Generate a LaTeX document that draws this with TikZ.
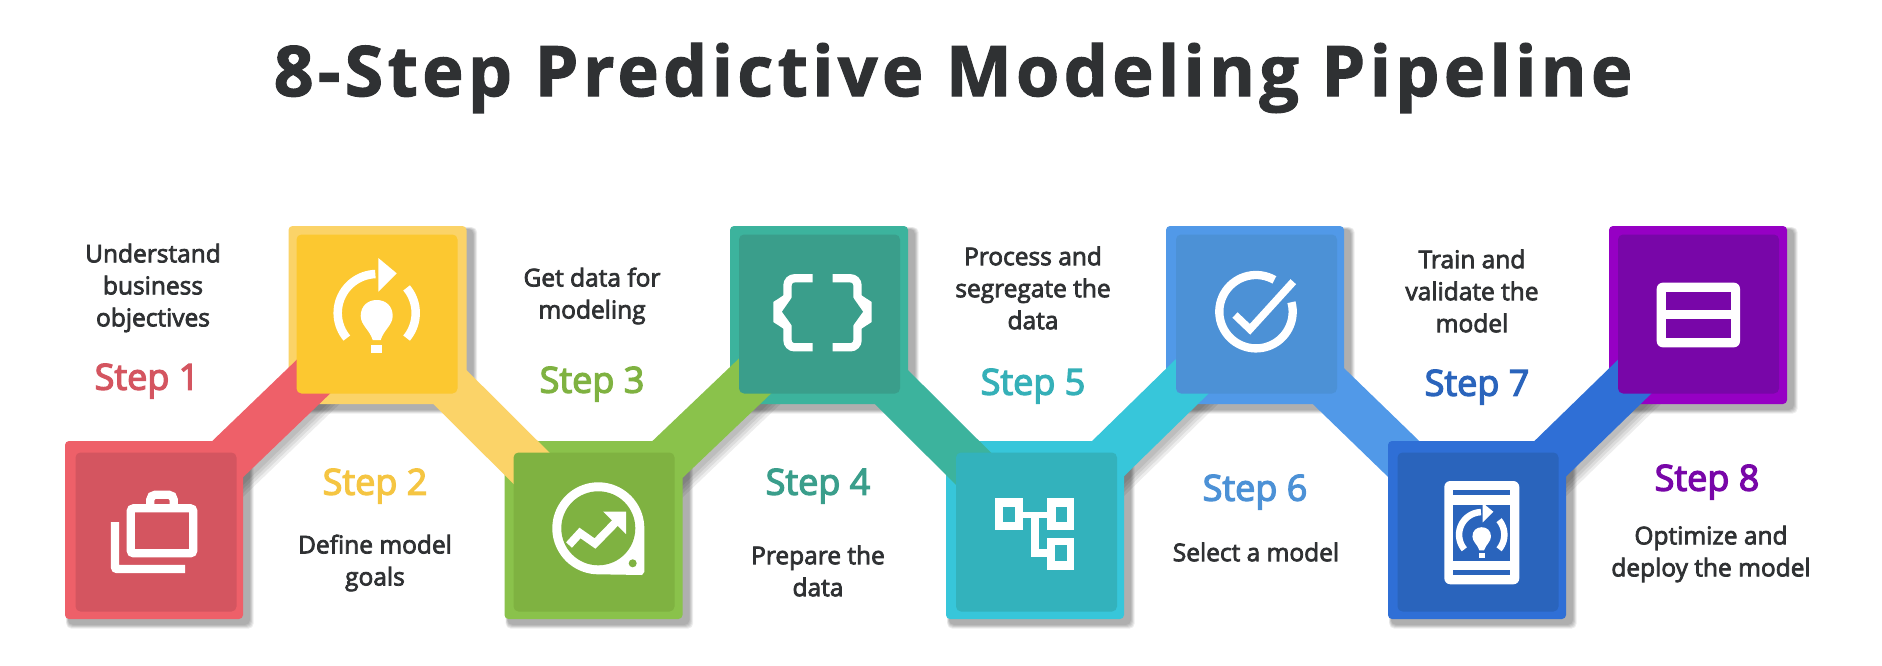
\documentclass[tikz,border=0pt]{standalone}
\usepackage{fontspec}
\setmainfont{Open Sans}
\newfontfamily\semif[FakeBold=3]{Open Sans}
\newfontfamily\stepf[FakeBold=3.5]{Open Sans}
\newfontfamily\titlef[LetterSpace=6.1,BoldFeatures={FakeBold=1.5}]{Open Sans}
\definecolor{oA}{HTML}{EE6069}\definecolor{iA}{HTML}{D45560}
\definecolor{oB}{HTML}{FBD368}\definecolor{iB}{HTML}{FCC830}
\definecolor{oC}{HTML}{8AC24B}\definecolor{iC}{HTML}{7FB241}
\definecolor{oD}{HTML}{3CB39D}\definecolor{iD}{HTML}{3A9E8B}
\definecolor{oE}{HTML}{37C6DA}\definecolor{iE}{HTML}{33B2BC}
\definecolor{oF}{HTML}{5199E8}\definecolor{iF}{HTML}{4C91D6}
\definecolor{oG}{HTML}{2F6FD6}\definecolor{iG}{HTML}{2A64BC}
\definecolor{oH}{HTML}{9600C4}\definecolor{iH}{HTML}{7806A8}
\definecolor{ink}{HTML}{2F3133}
\definecolor{stepB}{HTML}{F5C542}
\definecolor{stepE}{HTML}{35B0B8}
\pgfdeclarelayer{shadowlayer}\pgfdeclarelayer{lowband}\pgfdeclarelayer{bandlayer}\pgfdeclarelayer{innerlayer}\pgfdeclarelayer{iconlayer}
\pgfsetlayers{shadowlayer,lowband,main,bandlayer,innerlayer,iconlayer}
\tikzset{
  outerbox/.style={minimum width=178pt,minimum height=178pt,inner sep=0pt,rounded corners=4pt,fill=#1},
  innerbox/.style={minimum width=161pt,minimum height=159pt,inner sep=0pt,rounded corners=5pt,fill=#1},
  band/.style={line width=47.5pt,draw=#1},
  bandshadow/.style={line width=47.5pt,draw=black,opacity=0.07},
  steplabel/.style={font=\stepf\fontsize{36}{36}\selectfont,text=#1,inner sep=0pt},
  desc/.style={font=\semif\fontsize{24.5}{32}\selectfont,text=ink,align=center,inner sep=0pt},
  iconline/.style={draw=white,line width=8.3pt},
}
\newcommand\boxshadow[1]{%
  \foreach \k in {0,1.5,3,4.5,6}{%
    \fill[black,opacity=0.07,rounded corners=5pt]
      ([shift={(-89+3,-89+3)}]#1) ++(-\k*0.3,-\k*0.3) rectangle ++(178+4+\k*0.9,178+3+\k*0.9);
  }}
\newcommand\bulbicon[4]{%
  \begin{scope}[shift={(#1,#2)},scale=#3]
    \draw[white,line width=#4] plot[domain=220:92,samples=30] ({39*cos(\x)},{3-39*sin(\x)});
    \draw[white,line width=#4] plot[domain=-40:40,samples=20] ({39*cos(\x)},{3-39*sin(\x)});
    \fill[white] (1.6,-52) -- (20,-36.7) -- (1.6,-18.3) -- cycle;
    \fill[white] (-16,6) .. controls (-16,-4) and (-9,-10) .. (0,-10) .. controls (9,-10) and (16,-4) .. (16,6) .. controls (16,15) and (7,20) .. (4,30) -- (-4,30) .. controls (-7,20) and (-16,15) .. (-16,6) -- cycle;
    \fill[white] (-5.5,35) rectangle (5.5,43);
  \end{scope}}
\begin{document}
\begin{tikzpicture}[x=1pt,y=-1pt]
\useasboundingbox (0,0) rectangle (1882,666);
\begin{pgfonlayer}{shadowlayer}
  \fill[white] (0,0) rectangle (1882,666);
\end{pgfonlayer}

\node[font=\titlef\bfseries\fontsize{70}{70}\selectfont,text=ink,inner sep=0pt] (title) at (953,78) {8-Step Predictive Modeling Pipeline};

% outer boxes
\node[outerbox=oA] (s1) at (154,530) {};
\node[outerbox=oB] (s2) at (377.5,315) {};
\node[outerbox=oC] (s3) at (593.5,530) {};
\node[outerbox=oD] (s4) at (819,315) {};
\node[outerbox=oE] (s5) at (1035,530) {};
\node[outerbox=oF] (s6) at (1255,315) {};
\node[outerbox=oG] (s7) at (1477,530) {};
\node[outerbox=oH] (s8) at (1698,315) {};

\begin{pgfonlayer}{shadowlayer}
  \foreach \n in {s1,s2,s3,s4,s5,s6,s7,s8}{\boxshadow{\n.center}}
  \foreach \a/\b in {s1/s2,s3/s4,s5/s6,s7/s8}{
    \foreach \d in {4,6,8,10}{
      \draw[bandshadow] ([shift={(\d,\d)}]\a.center) -- ([shift={(\d,\d)}]\b.center);
    }
  }
\end{pgfonlayer}

% connector bands
\begin{pgfonlayer}{lowband}
  \draw[band=oF] (s6.center) -- (s7.center);
\end{pgfonlayer}
\begin{pgfonlayer}{bandlayer}
  \draw[band=oA] (s1.center) -- (s2.center);
  \draw[band=oB] (s2.center) -- (s3.center);
  \draw[band=oC] (s3.center) -- (s4.center);
  \draw[band=oD] (s4.center) -- (s5.center);
  \draw[band=oE] (s5.center) -- (s6.center);
  \draw[band=oG] (s7.center) -- (s8.center);
\end{pgfonlayer}

% inner boxes
\begin{pgfonlayer}{innerlayer}
  \node[innerbox=iA] (n1) at (156,532) {};
  \node[innerbox=iB] (n2) at (377,314) {};
  \node[innerbox=iC] (n3) at (594,532) {};
  \node[innerbox=iD] (n4) at (819.5,314) {};
  \node[innerbox=iE] (n5) at (1036.5,532) {};
  \node[innerbox=iF] (n6) at (1256.5,314) {};
  \node[innerbox=iG] (n7) at (1478,532) {};
  \node[innerbox=iH] (n8) at (1698.5,314) {};
\end{pgfonlayer}

% icons
\begin{pgfonlayer}{iconlayer}
  % briefcase
  \draw[iconline,rounded corners=3pt] (130.7,508.3) rectangle (193.3,553.3);
  \draw[iconline,rounded corners=5pt] (150.3,508.3) -- (150.3,494.7) -- (173.7,494.7) -- (173.7,508.3);
  \draw[iconline,rounded corners=2pt] (115,522) -- (115,569) -- (185,569);
  % bulb
  \bulbicon{376.7}{310}{1}{8.5pt}
  % chart
  \fill[white] plot[domain=0:270,samples=90] ({598.3+46*cos(\x)},{528.3-46*sin(\x)}) -- (642,575) -- (644.3,572) -- cycle;
  \fill[iC] (598.3,528.3) circle[radius=37];
  \fill[iC] (632.7,563.3) circle[radius=4];
  \draw[white,line width=8pt,line join=miter] (569,545) -- (580,533) -- (595,543.5) -- (616,522);
  \fill[white] (603,511.5) -- (626,511.5) -- (626,534) -- cycle;
  % braces
  \draw[iconline,rounded corners=7pt] (812.7,278.3) -- (787.5,278.3) -- (787.5,311.7);
  \draw[iconline,rounded corners=7pt] (787.5,311.7) -- (787.5,347.3) -- (812.7,347.3);
  \fill[white] (773.3,302) -- (773.3,322) -- (784,329) -- (790,329) -- (790,295) -- (784,295) -- cycle;
  \fill[iD] (793,296) -- (782,311.7) -- (793,327) -- cycle;
  \draw[iconline,rounded corners=7pt] (832.7,278.3) -- (857.5,278.3) -- (857.5,311.7);
  \draw[iconline,rounded corners=7pt] (857.5,311.7) -- (857.5,347.3) -- (832.7,347.3);
  \fill[white] (871.7,302) -- (871.7,322) -- (861,329) -- (855,329) -- (855,295) -- (861,295) -- cycle;
  \fill[iD] (852,296) -- (863,311.7) -- (852,327) -- cycle;
  % flow
  \fill[white] (995,498.3) rectangle (1022.7,530);
  \fill[white] (1047.3,498.3) rectangle (1074.3,530);
  \fill[white] (1047.3,538.3) rectangle (1074.3,570);
  \fill[iE] (1003.3,506.7) rectangle (1015,521.7);
  \fill[iE] (1056,506.7) rectangle (1066.7,521.7);
  \fill[iE] (1055,545) rectangle (1066.7,560.7);
  \draw[white,line width=6pt] (1022,515) -- (1048,515);
  \draw[white,line width=8pt] (1035,515) -- (1035,553) -- (1048,553);
  % check
  \draw[iconline] plot[domain=60:375,samples=60] ({1256+36.7*cos(\x)},{311.7-36.7*sin(\x)});
  \draw[white,line width=7.5pt] (1235,315) -- (1250,329.3) -- (1293.3,281.7);
  % tablet
  \fill[white,rounded corners=6pt] (1444.3,481) rectangle (1519.3,584.3);
  \fill[iG] (1453.3,490) rectangle (1510,495.3);
  \fill[iG] (1453.3,505) rectangle (1510,560.7);
  \fill[iG] (1453.3,570) rectangle (1510,575.3);
  \bulbicon{1481.7}{533}{0.58}{6.5pt}
  % panels
  \fill[white,rounded corners=6pt] (1656.7,282.7) rectangle (1740,347.3);
  \fill[iH] (1666,292) rectangle (1730.7,310);
  \fill[iH] (1666,319.3) rectangle (1730.7,338);
\end{pgfonlayer}

% step labels
\node[steplabel=iA] (st1) at (147,381) {Step 1};
\node[steplabel=stepB] (st2) at (375,486) {Step 2};
\node[steplabel=iC] (st3) at (592,384) {Step 3};
\node[steplabel=iD] (st4) at (818,486) {Step 4};
\node[steplabel=stepE] (st5) at (1033,386) {Step 5};
\node[steplabel=iF] (st6) at (1255,492) {Step 6};
\node[steplabel=iG] (st7) at (1477,387) {Step 7};
\node[steplabel=iH] (st8) at (1707,482) {Step 8};

% descriptions
\node[desc] (d1) at (153,288) {Understand\\business\\objectives};
\node[desc] (d2) at (375,563) {Define model\\goals};
\node[desc] (d3) at (592,296) {Get data for\\modeling};
\node[desc] (d4) at (818,571) {Prepare the\\data};
\node[desc] (d5) at (1033,288) {Process and\\segregate the\\data};
\node[desc] (d6) at (1256,552) {Select a model};
\node[desc] (d7) at (1472,291) {Train and\\validate the\\model};
\node[desc] (d8) at (1711,554) {Optimize and\\deploy the model};
\end{tikzpicture}
\end{document}
